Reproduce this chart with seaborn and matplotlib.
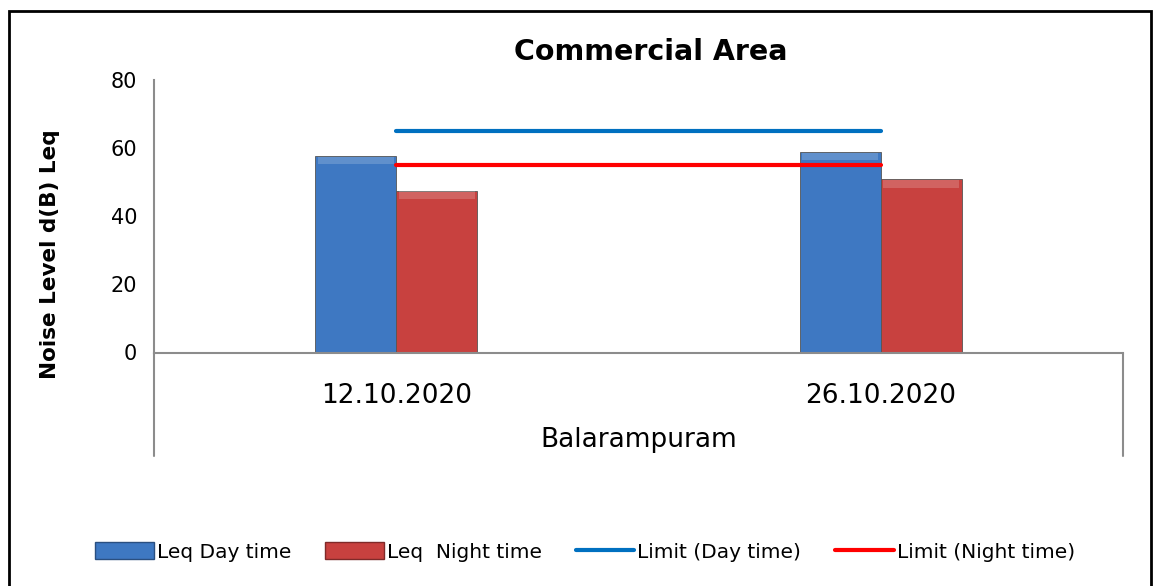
import seaborn as sns
import matplotlib.pyplot as plt
import matplotlib.patches as mpatches
import matplotlib.lines as mlines
import numpy as np
import pandas as pd

dates = ['12.10.2020', '26.10.2020']
leq_day = [57.6, 58.7]
leq_night = [47.4, 50.7]
limit_day = [65, 65]
limit_night = [55, 55]
series = ['Leq Day time', 'Leq  Night time']
limit_names = ['Limit (Day time)', 'Limit (Night time)']
location = 'Balarampuram'

blue = '#3E78C2'
red = '#C8413F'

sns.set_style('white')
plt.rcParams['font.family'] = ['DejaVu Sans']
plt.rcParams['text.color'] = 'black'
plt.rcParams['xtick.color'] = 'black'
plt.rcParams['ytick.color'] = 'black'

df = pd.DataFrame({
    'date': dates * 2,
    'value': leq_day + leq_night,
    'series': [series[0]] * len(dates) + [series[1]] * len(dates),
})

W, H = 1159, 586
fig = plt.figure(figsize=(W / 100, H / 100), dpi=100)
ax = fig.add_axes([154 / W, 1 - 352.5 / H, (1123 - 154) / W, 273 / H])

sns.barplot(data=df, x='date', y='value', hue='series', order=dates,
            palette=[blue, red], width=0.334, saturation=1, legend=False,
            edgecolor='#555555', linewidth=0.6, ax=ax)

# light bevel band along the top of each bar
for bar in ax.patches:
    x0, w, h = bar.get_x(), bar.get_width(), bar.get_height()
    ax.add_patch(mpatches.Rectangle((x0 + w * 0.03, h - 2.4), w * 0.94, 2.2,
                                    facecolor='white', alpha=0.18, lw=0, zorder=3))

pos = np.arange(len(dates))
sns.lineplot(x=pos, y=limit_day, color='#0070C0', lw=3, ax=ax, zorder=5)
sns.lineplot(x=pos, y=limit_night, color='#FF0000', lw=3, ax=ax, zorder=5)

ax.set_xlim(-0.5, len(dates) - 0.5)
ax.set_ylim(0, 80)
ax.set_yticks([0, 20, 40, 60, 80])
ax.set_xlabel('')
ax.set_ylabel('')
ax.tick_params(axis='y', length=0, pad=12, labelsize=15)
ax.tick_params(axis='x', length=0, pad=22, labelsize=19)
for s in ['top', 'right']:
    ax.spines[s].set_visible(False)
for s in ['left', 'bottom']:
    ax.spines[s].set_color('#8c8c8c')
    ax.spines[s].set_linewidth(1.5)

# category-axis group lines below the plot
for xp in [154, 1123]:
    fig.add_artist(mlines.Line2D([xp / W, xp / W], [1 - 352.5 / H, 1 - 456 / H],
                                 color='#8c8c8c', lw=1.5))

fig.text(651 / W, 1 - 52 / H, 'Commercial Area', ha='center', va='center',
         fontsize=20.5, fontweight='bold')
fig.text(50 / W, 1 - 254 / H, 'Noise Level d(B) Leq', ha='center', va='center',
         rotation=90, fontsize=15.5, fontweight='bold')
fig.text(639 / W, 1 - 440 / H, location, ha='center', va='center', fontsize=19)

handles = [
    mpatches.Patch(facecolor=blue, edgecolor='#2a4f80'),
    mpatches.Patch(facecolor=red, edgecolor='#7f2a29'),
    mlines.Line2D([], [], color='#0070C0', lw=3),
    mlines.Line2D([], [], color='#FF0000', lw=3),
]
fig.legend(handles, series + limit_names, loc='center', ncol=4,
           bbox_to_anchor=(585 / W, 1 - 552 / H), frameon=False, fontsize=14.5,
           handlelength=2.9, handleheight=0.9, handletextpad=0.15, columnspacing=1.7)

fig.add_artist(mpatches.Rectangle((8.5 / W, -0.02), (1151 - 8.5) / W, 1.02 - 11 / H,
                                  transform=fig.transFigure, fill=False,
                                  edgecolor='black', lw=2))

fig.savefig('out.png', dpi=100)
